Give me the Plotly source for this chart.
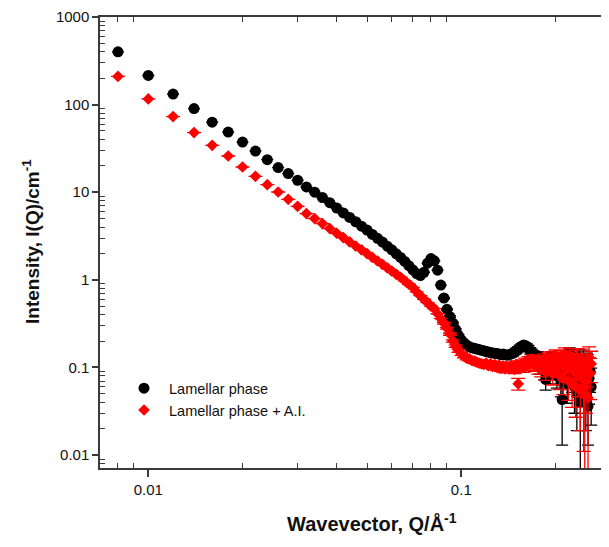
import plotly.graph_objects as go

# Wavevector Q (1/Angstrom)
q = [
    0.008, 0.010, 0.012, 0.014, 0.016, 0.018, 0.020, 0.022, 0.024, 0.026,
    0.028, 0.030, 0.032, 0.034, 0.036, 0.038, 0.040, 0.042, 0.044, 0.046,
    0.048, 0.050, 0.052, 0.054, 0.056, 0.058, 0.060, 0.062, 0.064, 0.066,
    0.068, 0.070, 0.072, 0.074, 0.076, 0.078, 0.080, 0.082, 0.084, 0.086,
    0.088, 0.090, 0.092, 0.094, 0.096, 0.098, 0.100, 0.102, 0.104, 0.106,
    0.108, 0.110, 0.112, 0.114, 0.116, 0.118, 0.120, 0.122, 0.124, 0.126,
    0.128, 0.130, 0.132, 0.134, 0.136, 0.138, 0.140, 0.142, 0.144, 0.146,
    0.148, 0.150, 0.152, 0.154, 0.156, 0.158, 0.160, 0.162, 0.164, 0.166,
    0.168, 0.170, 0.172, 0.174, 0.176, 0.178, 0.180, 0.182, 0.184, 0.186,
    0.188, 0.190, 0.192, 0.194, 0.196, 0.198, 0.200, 0.202, 0.204, 0.206,
    0.208, 0.210, 0.212, 0.214, 0.216, 0.218, 0.220, 0.222, 0.224, 0.226,
    0.228, 0.230, 0.232, 0.234, 0.236, 0.238, 0.240, 0.242, 0.244, 0.246,
    0.248, 0.250, 0.252, 0.254, 0.256, 0.258, 0.260,
]

# Lamellar phase
i_lam = [
    400, 215, 132, 90, 63, 48.6, 37.4, 29.5, 23.5, 19.1,
    16.3, 13.7, 11.5, 10.0, 8.7, 7.6, 6.6, 5.8, 5.15, 4.6,
    4.1, 3.7, 3.3, 2.98, 2.7, 2.42, 2.2, 1.98, 1.80, 1.62,
    1.45, 1.30, 1.18, 1.12, 1.22, 1.55, 1.75, 1.65, 1.29, 0.87,
    0.62, 0.46, 0.38, 0.32, 0.27, 0.23, 0.205, 0.19, 0.18, 0.172,
    0.168, 0.165, 0.162, 0.16, 0.157, 0.155, 0.152, 0.15, 0.148, 0.146,
    0.145, 0.144, 0.142, 0.14, 0.142, 0.14, 0.138, 0.14, 0.142, 0.145,
    0.15, 0.155, 0.162, 0.168, 0.175, 0.18, 0.178, 0.172, 0.165, 0.155,
    0.148, 0.14, 0.13, 0.12, 0.135, 0.1, 0.125, 0.115, 0.09, 0.073,
    0.12, 0.105, 0.085, 0.13, 0.11, 0.095, 0.125, 0.08, 0.115, 0.1,
    0.07, 0.043, 0.12, 0.09, 0.105, 0.065, 0.13, 0.145, 0.1, 0.08,
    0.12, 0.06, 0.11, 0.05, 0.09, 0.13, 0.04, 0.1, 0.07, 0.12,
    0.085, 0.055, 0.11, 0.036, 0.075, 0.09, 0.06,
]
# error bars (None where the bar is hidden by the marker)
err_lam = [
    None, None, None, None, None, None, None, None, None, None,
    None, None, None, None, None, None, None, None, None, None,
    None, None, None, None, None, None, None, None, None, None,
    None, None, None, None, None, None, None, None, None, None,
    0.012, 0.01, 0.009, 0.008, 0.007, 0.006, 0.006, 0.006, 0.006, 0.006,
    0.006, 0.006, 0.006, 0.006, 0.006, 0.006, 0.007, 0.007, 0.007, 0.007,
    0.007, 0.008, 0.008, 0.008, 0.008, 0.009, 0.009, 0.009, 0.01, 0.01,
    0.01, 0.011, 0.011, 0.012, 0.012, 0.012, 0.012, 0.013, 0.013, 0.013,
    0.014, 0.014, 0.015, 0.015, 0.016, 0.016, 0.017, 0.017, 0.018, 0.018,
    0.019, 0.019, 0.02, 0.02, 0.021, 0.021, 0.022, 0.022, 0.023, 0.023,
    0.024, 0.03, 0.025, 0.025, 0.026, 0.026, 0.027, 0.022, 0.028, 0.028,
    0.029, 0.03, 0.03, 0.031, 0.032, 0.032, 0.038, 0.033, 0.034, 0.034,
    0.035, 0.036, 0.036, 0.023, 0.037, 0.038, 0.038,
]

# Lamellar phase + A.I.
i_ai = [
    210, 116, 73, 48, 34.3, 25.9, 19.4, 15.2, 12.2, 10.05,
    8.3, 6.9, 5.7, 5.0, 4.38, 3.85, 3.4, 3.03, 2.71, 2.43,
    2.2, 1.99, 1.8, 1.64, 1.5, 1.37, 1.26, 1.155, 1.07, 0.975,
    0.89, 0.82, 0.73, 0.66, 0.6, 0.55, 0.5, 0.47, 0.41, 0.36,
    0.32, 0.28, 0.24, 0.2, 0.175, 0.155, 0.143, 0.135, 0.128, 0.125,
    0.12, 0.118, 0.115, 0.112, 0.11, 0.108, 0.112, 0.105, 0.11, 0.103,
    0.108, 0.1, 0.106, 0.098, 0.104, 0.096, 0.102, 0.097, 0.105, 0.1,
    0.095, 0.108, 0.065, 0.103, 0.11, 0.1, 0.115, 0.105, 0.12, 0.11,
    0.125, 0.115, 0.105, 0.12, 0.1, 0.118, 0.095, 0.11, 0.125, 0.09,
    0.115, 0.13, 0.1, 0.118, 0.085, 0.12, 0.135, 0.1, 0.125, 0.08,
    0.13, 0.11, 0.075, 0.14, 0.095, 0.12, 0.07, 0.135, 0.1, 0.065,
    0.125, 0.09, 0.06, 0.13, 0.08, 0.11, 0.055, 0.125, 0.09, 0.05,
    0.06, 0.07, 0.1, 0.045, 0.13, 0.085, 0.11,
]
err_ai = [
    None, None, None, None, None, None, None, None, None, None,
    None, None, None, None, None, None, None, None, None, None,
    None, None, None, None, None, None, None, None, None, None,
    None, None, None, None, None, None, None, None, None, None,
    0.008, 0.007, 0.007, 0.006, 0.006, 0.006, 0.006, 0.006, 0.006, 0.006,
    0.006, 0.006, 0.006, 0.006, 0.006, 0.006, 0.007, 0.007, 0.007, 0.007,
    0.007, 0.008, 0.008, 0.008, 0.008, 0.009, 0.009, 0.009, 0.01, 0.01,
    0.01, 0.011, 0.01, 0.012, 0.012, 0.012, 0.013, 0.013, 0.013, 0.014,
    0.014, 0.015, 0.015, 0.016, 0.016, 0.017, 0.017, 0.018, 0.018, 0.019,
    0.019, 0.02, 0.02, 0.021, 0.022, 0.022, 0.023, 0.023, 0.024, 0.024,
    0.025, 0.025, 0.026, 0.027, 0.027, 0.028, 0.028, 0.029, 0.03, 0.03,
    0.031, 0.032, 0.033, 0.034, 0.034, 0.035, 0.036, 0.037, 0.038, 0.039,
    0.058, 0.04, 0.04, 0.041, 0.042, 0.042, 0.043,
]

series_names = ["Lamellar phase", "Lamellar phase + A.I."]

x_major = [0.01, 0.1]
x_major_text = ["0.01", "0.1"]
x_minor = [0.008, 0.009, 0.02, 0.03, 0.04, 0.05, 0.06, 0.07, 0.08, 0.09, 0.2, 0.3]
y_major = [0.01, 0.1, 1, 10, 100, 1000]
y_major_text = ["0.01", "0.1", "1", "10", "100", "1000"]
y_minor = [m * d for d in [0.001, 0.01, 0.1, 1, 10, 100] for m in range(2, 10)]

FONT = "Liberation Sans, Arial, sans-serif"
AXC = "#3a3a3a"

# page body has an 8px default margin; figure is sized/placed accordingly
W, H = 603, 531
ML, MR, MT, MB = 92, 0, 9, 71
PW = W - ML - MR
PH = H - MT - MB

fig = go.Figure()
fig.add_trace(go.Scatter(
    x=q, y=i_lam, mode="markers", name=series_names[0],
    marker=dict(symbol="circle", size=11, color="black"),
    error_y=dict(type="data", array=err_lam, color="black", thickness=1.3, width=6),
))
fig.add_trace(go.Scatter(
    x=q, y=i_ai, mode="markers", name=series_names[1],
    marker=dict(symbol="diamond", size=9, color="#ff0000"),
    error_y=dict(type="data", array=err_ai, color="#ff0000", thickness=1.3, width=7),
))
# dummy trace to host mirror axes
fig.add_trace(go.Scatter(x=[None], y=[None], xaxis="x2", yaxis="y2",
                         showlegend=False, hoverinfo="skip"))

XR = [-2.1543, -0.5217]
YR = [-2.148, 3.0]

fig.update_layout(
    width=W, height=H,
    margin=dict(l=ML, r=MR, t=MT, b=MB, autoexpand=False),
    paper_bgcolor="white", plot_bgcolor="white",
    font=dict(family=FONT, size=15, color="#111"),
    showlegend=True,
    legend=dict(x=19 / PW, y=0.2124, xanchor="left", yanchor="top",
                bgcolor="rgba(0,0,0,0)", font=dict(size=14.5, family=FONT, color="#111"),
                itemsizing="trace", itemwidth=40),
    xaxis=dict(type="log", range=XR, showgrid=False, zeroline=False, automargin=False,
               showline=True, linecolor=AXC, linewidth=1.5,
               ticks="outside", ticklen=7, tickwidth=1.5, tickcolor=AXC,
               tickvals=x_major, ticktext=x_major_text,
               tickfont=dict(size=15, family=FONT, color="#111"),
               minor=dict(tickvals=x_minor, ticks="inside", ticklen=5,
                          tickwidth=1.2, tickcolor=AXC, showgrid=False)),
    yaxis=dict(type="log", range=YR, showgrid=False, zeroline=False, automargin=False,
               showline=True, linecolor=AXC, linewidth=1.5,
               ticks="outside", ticklen=6, tickwidth=1.5, tickcolor=AXC,
               tickvals=y_major, ticktext=y_major_text,
               tickfont=dict(size=15, family=FONT, color="#111"),
               minor=dict(tickvals=y_minor, ticks="inside", ticklen=5,
                          tickwidth=1.2, tickcolor=AXC, showgrid=False)),
    xaxis2=dict(type="log", range=XR, overlaying="x", side="top", anchor="y2",
                automargin=False,
                showgrid=False, zeroline=False, showline=True, linecolor=AXC,
                linewidth=1.5, ticks="", showticklabels=False,
                tickvals=x_major,
                minor=dict(tickvals=x_minor, ticks="inside", ticklen=5,
                           tickwidth=1.2, tickcolor=AXC, showgrid=False)),
    yaxis2=dict(type="log", range=YR, overlaying="y", side="right", anchor="x2",
                automargin=False,
                showgrid=False, zeroline=False, showline=False,
                ticks="inside", ticklen=4, tickwidth=1.2, tickcolor=AXC,
                tickvals=y_major, showticklabels=False,
                minor=dict(tickvals=y_minor, ticks="inside", ticklen=3,
                           tickwidth=1.2, tickcolor=AXC, showgrid=False)),
    annotations=[
        dict(text="<b>Wavevector, Q/Å<sup>-1</sup></b>", xref="paper", yref="paper",
             x=(372 - 100) / PW, y=-(522 - 468) / PH, xanchor="center", yanchor="middle",
             showarrow=False, font=dict(size=20, family=FONT, color="#111")),
        dict(text="<b>Intensity, I(Q)/cm<sup>-1</sup></b>", xref="paper", yref="paper",
             x=-(100 - 31) / PW, y=(468 - 242) / PH, xanchor="center", yanchor="middle",
             textangle=-90, showarrow=False, font=dict(size=19, family=FONT, color="#111")),
    ],
)

fig.write_html("out.html")
